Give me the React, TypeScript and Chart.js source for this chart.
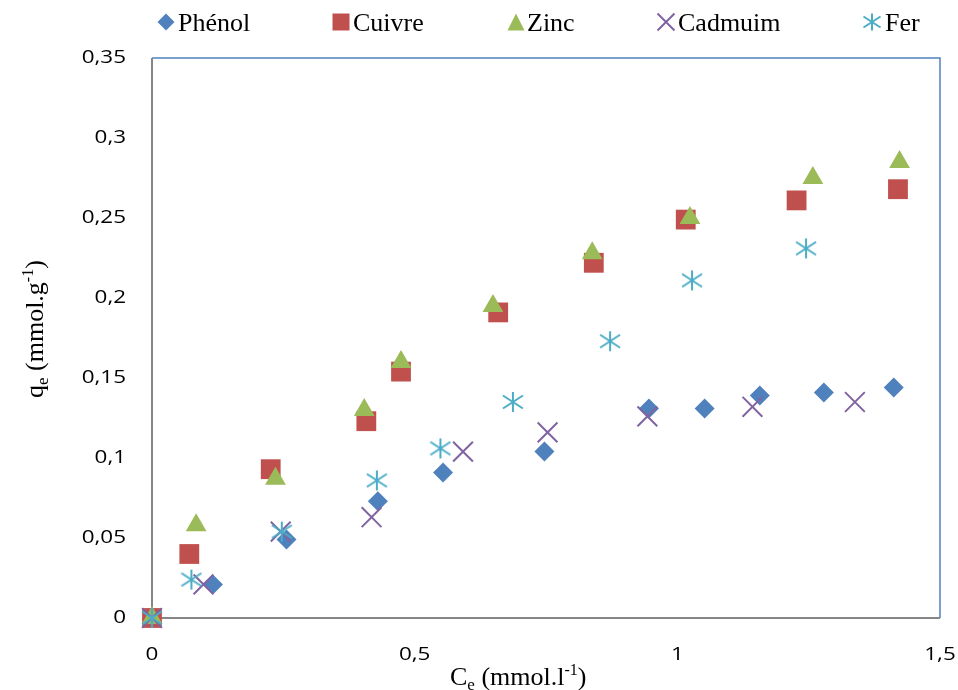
import React, { useEffect, useRef } from "react";
import { Chart, registerables } from "chart.js";

Chart.register(...registerables);

// Adsorption isotherms: equilibrium concentration Ce (mmol/l) vs adsorbed amount qe (mmol/g)
const phenolCe = [0, 0.116, 0.256, 0.43, 0.554, 0.747, 0.946, 1.052, 1.157, 1.279, 1.412];
const phenolQe = [0, 0.021, 0.049, 0.073, 0.091, 0.104, 0.131, 0.131, 0.139, 0.141, 0.144];

const cuivreCe = [0, 0.071, 0.226, 0.408, 0.474, 0.659, 0.841, 1.016, 1.227, 1.42];
const cuivreQe = [0, 0.04, 0.093, 0.123, 0.154, 0.191, 0.222, 0.249, 0.261, 0.268];

const zincCe = [0, 0.084, 0.235, 0.404, 0.474, 0.649, 0.838, 1.024, 1.258, 1.423];
const zincQe = [0, 0.058, 0.087, 0.13, 0.16, 0.195, 0.228, 0.25, 0.275, 0.285];

const cadmiumCe = [0, 0.098, 0.245, 0.418, 0.592, 0.753, 0.943, 1.143, 1.338];
const cadmiumQe = [0, 0.021, 0.054, 0.063, 0.104, 0.116, 0.126, 0.132, 0.135];

const ferCe = [0, 0.075, 0.247, 0.428, 0.549, 0.687, 0.872, 1.028, 1.245];
const ferQe = [0, 0.024, 0.054, 0.086, 0.106, 0.135, 0.173, 0.211, 0.231];

const seriesNames = ["Phénol", "Cuivre", "Zinc", "Cadmuim", "Fer"];

const BLUE = "#4F81BD";
const RED = "#C0504D";
const GREEN = "#9BBB59";
const PURPLE = "#8064A2";
const CYAN = "#4BACC6";

const X_MIN = 0;
const X_MAX = 1.5;
const X_STEP = 0.5;
const Y_MIN = 0;
const Y_MAX = 0.35;
const Y_STEP = 0.05;

const SERIF = "'Liberation Serif', 'Times New Roman', serif";
const SANS = "'Open Sans', 'Liberation Sans', sans-serif";

const toPoints = (xs: number[], ys: number[]) => xs.map((x, i) => ({ x, y: ys[i] }));

const fmt = (v: number) => String(+v.toFixed(2)).replace(".", ",");

// Asterisk-like marker: a vertical bar crossed by two diagonals
function strokeFer(ctx: CanvasRenderingContext2D, cx: number, cy: number, s: number, color: string, lw: number) {
  const h = s / 2;
  ctx.save();
  ctx.strokeStyle = color;
  ctx.lineWidth = lw;
  ctx.beginPath();
  ctx.moveTo(cx, cy - h);
  ctx.lineTo(cx, cy + h);
  ctx.moveTo(cx - h, cy - h * 0.65);
  ctx.lineTo(cx + h, cy + h * 0.65);
  ctx.moveTo(cx - h, cy + h * 0.65);
  ctx.lineTo(cx + h, cy - h * 0.65);
  ctx.stroke();
  ctx.restore();
}

function makeFerMarker(size: number, color: string) {
  const c = document.createElement("canvas");
  c.width = size + 2;
  c.height = size + 2;
  const g = c.getContext("2d")!;
  strokeFer(g, (size + 2) / 2, (size + 2) / 2, size, color, 2);
  return c;
}

type Run = { t: string; size: number; dy: number };

function drawRuns(ctx: CanvasRenderingContext2D, runs: Run[], x: number, y: number) {
  let cx = x;
  for (const r of runs) {
    ctx.font = `${r.size}px ${SERIF}`;
    ctx.fillText(r.t, cx, y + r.dy);
    cx += ctx.measureText(r.t).width;
  }
}

function drawStretched(
  ctx: CanvasRenderingContext2D,
  text: string,
  x: number,
  y: number,
  align: CanvasTextAlign,
  sx: number
) {
  ctx.save();
  ctx.translate(x, y);
  ctx.scale(sx, 1);
  ctx.textAlign = align;
  ctx.textBaseline = "middle";
  ctx.fillText(text, 0, 0);
  ctx.restore();
}

function drawLegendMarker(ctx: CanvasRenderingContext2D, kind: number, cx: number, cy: number) {
  const s = 17;
  const h = s / 2;
  ctx.save();
  switch (kind) {
    case 0:
      ctx.fillStyle = BLUE;
      ctx.beginPath();
      ctx.moveTo(cx, cy - h);
      ctx.lineTo(cx + h, cy);
      ctx.lineTo(cx, cy + h);
      ctx.lineTo(cx - h, cy);
      ctx.closePath();
      ctx.fill();
      break;
    case 1:
      ctx.fillStyle = RED;
      ctx.fillRect(cx - h, cy - h, s, s);
      break;
    case 2:
      ctx.fillStyle = GREEN;
      ctx.beginPath();
      ctx.moveTo(cx, cy - h);
      ctx.lineTo(cx + h, cy + h);
      ctx.lineTo(cx - h, cy + h);
      ctx.closePath();
      ctx.fill();
      break;
    case 3:
      ctx.strokeStyle = PURPLE;
      ctx.lineWidth = 2;
      ctx.beginPath();
      ctx.moveTo(cx - h, cy - h);
      ctx.lineTo(cx + h, cy + h);
      ctx.moveTo(cx - h, cy + h);
      ctx.lineTo(cx + h, cy - h);
      ctx.stroke();
      break;
    default:
      strokeFer(ctx, cx, cy, s, CYAN, 2);
  }
  ctx.restore();
}

const legendMarkerX = [166, 341, 516, 666, 872];
const legendTextX = [178, 353, 527, 678, 885];

const decorPlugin = {
  id: "isothermDecor",
  beforeDatasetsDraw(chart: any) {
    const { ctx, chartArea } = chart;
    const { left, right, top, bottom } = chartArea;
    ctx.save();
    // plot-area frame (top and right)
    ctx.strokeStyle = BLUE;
    ctx.lineWidth = 1.5;
    ctx.beginPath();
    ctx.moveTo(left, top);
    ctx.lineTo(right, top);
    ctx.lineTo(right, bottom);
    ctx.stroke();
    // value axes (left and bottom)
    ctx.strokeStyle = "#868686";
    ctx.lineWidth = 2;
    ctx.beginPath();
    ctx.moveTo(left, top);
    ctx.lineTo(left, bottom);
    ctx.lineTo(right, bottom);
    ctx.stroke();
    ctx.restore();
  },
  afterDraw(chart: any) {
    const { ctx, chartArea } = chart;
    const xs = chart.scales.x;
    const ys = chart.scales.y;
    ctx.save();
    ctx.fillStyle = "#000";

    // tick labels
    ctx.font = `19px ${SANS}`;
    for (const t of ys.ticks) {
      drawStretched(ctx, fmt(t.value), chartArea.left - 26, ys.getPixelForValue(t.value), "right", 1.18);
    }
    for (const t of xs.ticks) {
      drawStretched(ctx, fmt(t.value), xs.getPixelForValue(t.value), chartArea.bottom + 37, "center", 1.18);
    }

    // axis titles
    ctx.textAlign = "left";
    ctx.textBaseline = "alphabetic";
    drawRuns(
      ctx,
      [
        { t: "C", size: 26, dy: 0 },
        { t: "e", size: 17, dy: 5 },
        { t: " (mmol.l", size: 26, dy: 0 },
        { t: "-1", size: 16, dy: -10 },
        { t: ")", size: 26, dy: 0 },
      ],
      450,
      685
    );
    ctx.save();
    ctx.translate(43, 398);
    ctx.rotate(-Math.PI / 2);
    drawRuns(
      ctx,
      [
        { t: "q", size: 26, dy: 0 },
        { t: "e", size: 17, dy: 5 },
        { t: " (mmol.g", size: 26, dy: 0 },
        { t: "-1", size: 16, dy: -10 },
        { t: ")", size: 26, dy: 0 },
      ],
      0,
      0
    );
    ctx.restore();

    // legend
    ctx.font = `26px ${SERIF}`;
    seriesNames.forEach((name, i) => {
      drawLegendMarker(ctx, i, legendMarkerX[i], 22);
      ctx.fillStyle = "#000";
      ctx.fillText(name, legendTextX[i], 31);
    });
    ctx.restore();
  },
};

export default function App() {
  const canvasRef = useRef<HTMLCanvasElement | null>(null);

  useEffect(() => {
    document.body.style.margin = "0";
    const canvas = canvasRef.current;
    if (!canvas) return;

    const ferMarker = makeFerMarker(20, CYAN);

    const chart = new Chart(canvas, {
      type: "scatter",
      data: {
        datasets: [
          {
            label: seriesNames[0],
            data: toPoints(phenolCe, phenolQe),
            pointStyle: "rectRot",
            pointRadius: 10,
            backgroundColor: BLUE,
            borderColor: BLUE,
            borderWidth: 0,
            order: 5,
            clip: false,
          },
          {
            label: seriesNames[1],
            data: toPoints(cuivreCe, cuivreQe),
            pointStyle: "rect",
            pointRadius: 14,
            backgroundColor: RED,
            borderColor: RED,
            borderWidth: 0,
            order: 4,
            clip: false,
          },
          {
            label: seriesNames[2],
            data: toPoints(zincCe, zincQe),
            pointStyle: "triangle",
            pointRadius: 12,
            backgroundColor: GREEN,
            borderColor: GREEN,
            borderWidth: 0,
            order: 3,
            clip: false,
          },
          {
            label: seriesNames[3],
            data: toPoints(cadmiumCe, cadmiumQe),
            pointStyle: "crossRot",
            pointRadius: 14,
            backgroundColor: PURPLE,
            borderColor: PURPLE,
            borderWidth: 2,
            order: 2,
            clip: false,
          },
          {
            label: seriesNames[4],
            data: toPoints(ferCe, ferQe),
            pointStyle: ferMarker as any,
            pointRadius: 10,
            backgroundColor: CYAN,
            borderColor: CYAN,
            order: 1,
            clip: false,
          },
        ] as any,
      },
      options: {
        responsive: false,
        animation: false,
        layout: { padding: { top: 58, right: 18, bottom: 0, left: 0 } },
        plugins: {
          legend: { display: false },
          tooltip: { enabled: false },
          title: { display: false },
        },
        scales: {
          x: {
            type: "linear",
            min: X_MIN,
            max: X_MAX,
            ticks: { stepSize: X_STEP, display: false },
            grid: { display: false },
            border: { display: false },
            afterFit: (s: any) => {
              s.height = 72;
            },
          },
          y: {
            type: "linear",
            min: Y_MIN,
            max: Y_MAX,
            ticks: { stepSize: Y_STEP, display: false },
            grid: { display: false },
            border: { display: false },
            afterFit: (s: any) => {
              s.width = 152;
            },
          },
        },
      } as any,
      plugins: [decorPlugin],
    });

    return () => chart.destroy();
  }, []);

  return (
    <div style={{ position: "absolute", left: 0, top: 0, width: 958, height: 690, background: "#fff" }}>
      <canvas ref={canvasRef} width={958} height={690} />
    </div>
  );
}
